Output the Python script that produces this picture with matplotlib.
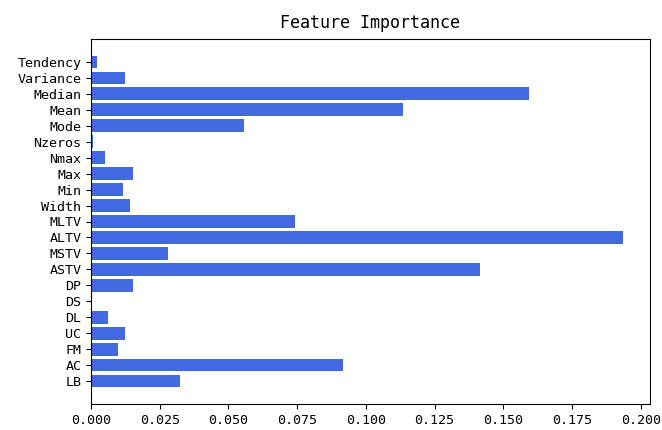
import matplotlib
matplotlib.use("Agg")
import matplotlib.pyplot as plt

features = ["LB", "AC", "FM", "UC", "DL", "DS", "DP", "ASTV", "MSTV", "ALTV",
            "MLTV", "Width", "Min", "Max", "Nmax", "Nzeros", "Mode", "Mean",
            "Median", "Variance", "Tendency"]
importance = [0.0323, 0.0917, 0.0099, 0.0123, 0.0063, 0.0, 0.0154, 0.1416,
              0.0281, 0.1937, 0.0744, 0.0142, 0.0117, 0.0154, 0.0051, 0.0008,
              0.0555, 0.1136, 0.1595, 0.0123, 0.0021]

plt.rcParams["font.family"] = ["DejaVu Sans Mono"]

fig = plt.figure(figsize=(6.62, 4.30), dpi=100)
ax = fig.add_axes([91 / 662, 26 / 430, 559 / 662, 365 / 430])

ax.barh(features, importance, color="royalblue")
ax.set_title("Feature Importance", fontsize=12, pad=8)
ax.set_xticks([0.0, 0.025, 0.05, 0.075, 0.1, 0.125, 0.15, 0.175, 0.2])
ax.set_xticklabels(["0.000", "0.025", "0.050", "0.075", "0.100", "0.125",
                    "0.150", "0.175", "0.200"])
ax.tick_params(axis="both", labelsize=9.6)

fig.savefig("out.png", dpi=100)
